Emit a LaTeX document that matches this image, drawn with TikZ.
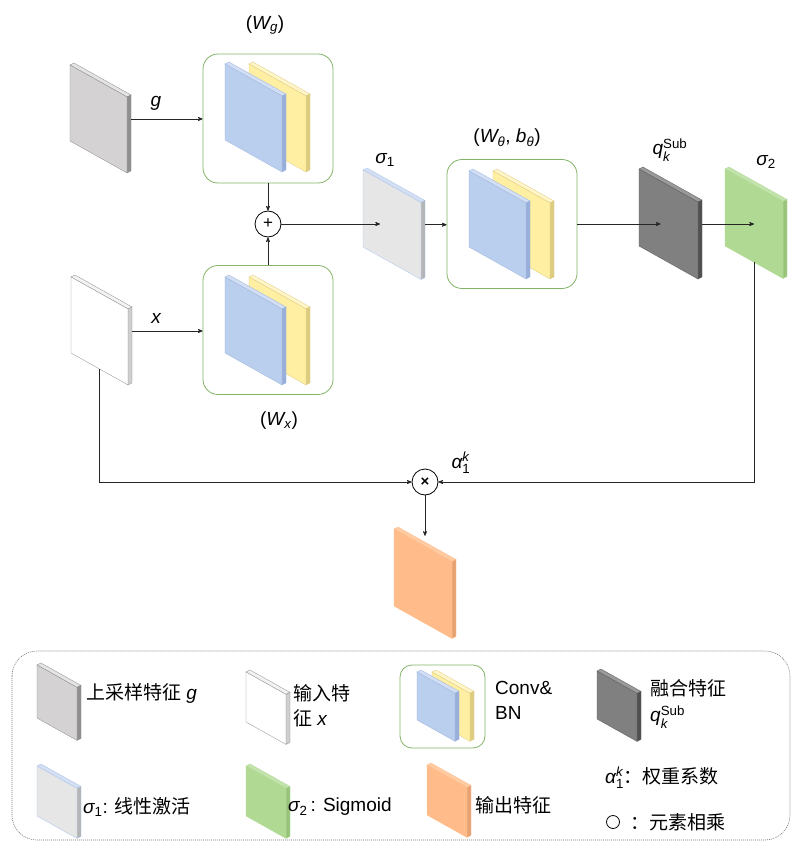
\documentclass[tikz,border=0pt]{standalone}
\usepackage{amsmath}
\usepackage{fontspec}
\setmainfont{Liberation Sans}
\newfontfamily\cjk{Noto Sans CJK SC}
\usetikzlibrary{arrows,positioning}

\definecolor{boxgreen}{HTML}{82B366}
\definecolor{gfront}{HTML}{D4D2D3}
\definecolor{gside}{HTML}{8F8F8F}
\definecolor{gtop}{HTML}{E4E4E4}
\definecolor{gedge}{HTML}{888888}
\definecolor{xside}{HTML}{CFCFCF}
\definecolor{xtop}{HTML}{F2F2F2}
\definecolor{xedge}{HTML}{8C8C8C}
\definecolor{sfront}{HTML}{E6E6E6}
\definecolor{sside}{HTML}{B5B5B5}
\definecolor{stop}{HTML}{D4DFF3}
\definecolor{sedge}{HTML}{A9C4EB}
\definecolor{qfront}{HTML}{808080}
\definecolor{qside}{HTML}{505050}
\definecolor{qtop}{HTML}{9A9A9A}
\definecolor{qedge}{HTML}{5A5A5A}
\definecolor{gnfront}{HTML}{B0D993}
\definecolor{gnside}{HTML}{98C47A}
\definecolor{gntop}{HTML}{C3E3AC}
\definecolor{ofront}{HTML}{FFBC8A}
\definecolor{oside}{HTML}{E6A273}
\definecolor{otop}{HTML}{FFCBA3}
\definecolor{bfront}{HTML}{BACEEE}
\definecolor{bside}{HTML}{98AFDA}
\definecolor{btop}{HTML}{D2DEF4}
\definecolor{bedge}{HTML}{9FB6DE}
\definecolor{yfront}{HTML}{FFEFA3}
\definecolor{yside}{HTML}{DDCC80}
\definecolor{ytop}{HTML}{FFF5C8}

\tikzset{
    %Define standard arrow tip
    >=stealth',
    %Define style for conv boxes
    convbox/.style={
           rectangle, rounded corners=15pt,
           draw=boxgreen, line width=0.8pt, fill=white,
           minimum width=130pt, minimum height=129pt},
    %Define style for operators
    opnode/.style={
           circle, draw=black, line width=0.8pt,
           minimum size=26pt, inner sep=0pt},
    % Define arrow style
    pil/.style={
           ->,
           line width=0.7pt,
           draw=black!85},
    lbl/.style={font=\fontsize{19}{23}\selectfont, inner sep=0pt},
    legtxt/.style={font=\fontsize{19}{25}\selectfont, anchor=west, align=left, inner sep=0pt},
    legbox/.style={draw=black!55, line width=0.6pt, dash pattern=on 1pt off 1pt, rounded corners=25pt}
}

% feature map: name, x, y, width, height, front, side, top, edge
\newcommand{\fmap}[9]{%
  \pgfmathsetmacro{\sk}{0.56*#4}
  \filldraw[fill=#8, draw=#9, line width=0.3pt] (#2,#3) -- ++(4,-2) -- ++(#4,\sk) -- ++(-4,2) -- cycle;
  \filldraw[fill=#7, draw=#9, line width=0.3pt] (#2+#4,#3+\sk) -- ++(4,-2) -- ++(0,#5) -- ++(-4,2) -- cycle;
  \filldraw[fill=#6, draw=#9, line width=0.3pt] (#2,#3) -- ++(#4,\sk) -- ++(0,#5) -- ++(-#4,-\sk) -- cycle;
  \node[inner sep=0pt, minimum width=#4, minimum height=#5+\sk] (#1) at (#2+#4/2,#3+#5/2+\sk/2) {};
}

\begin{document}
\begin{tikzpicture}[x=1pt,y=-1pt]
\useasboundingbox (0,0) rectangle (793,842);
%Feature maps
\fmap{g}{70}{65}{57}{76}{gfront}{gside}{gtop}{gedge}
\fmap{x}{71}{277}{57}{76}{white}{xside}{xtop}{xedge}
\fmap{s1}{363}{170}{58}{77}{sfront}{sside}{stop}{sedge}
\fmap{q}{639}{169}{59}{77}{qfront}{qside}{qtop}{qedge}
\fmap{s2}{725}{169}{58}{77}{gnfront}{gnside}{gntop}{gnfront}
\fmap{out}{394}{529}{58}{77}{ofront}{oside}{otop}{ofront}
%Conv boxes
\node[convbox] (wg) at (268,118.5) {};
\fmap{wgy}{249}{64}{57}{76}{yfront}{yside}{ytop}{yside}
\fmap{wgb}{225}{64}{57}{76}{bfront}{bside}{btop}{bedge}
\node[convbox] (wx) at (268,330) {};
\fmap{wxy}{249}{277}{57}{76}{yfront}{yside}{ytop}{yside}
\fmap{wxb}{225}{277}{57}{76}{bfront}{bside}{btop}{bedge}
\node[convbox] (wt) at (512,224) {};
\fmap{wty}{493}{171}{57}{76}{yfront}{yside}{ytop}{yside}
\fmap{wtb}{469}{171}{57}{76}{bfront}{bside}{btop}{bedge}
%Operators
\node[opnode, font=\fontsize{17}{20}\selectfont] (plus) at (268,224) {+};
\node[opnode, font=\fontsize{15}{18}\selectfont\bfseries] (times) at (425,482) {×};
%Labels
\node[lbl] (lwg) at (265,25) {({\itshape W}\textsubscript{\itshape g})};
\node[lbl] (lwx) at (279,421) {({\itshape W}\textsubscript{\itshape x})};
\node[lbl] (lg) at (156,103) {\itshape g};
\node[lbl] (lx) at (156,318) {\itshape x};
\node[lbl] (ls1) at (385,160) {{\itshape σ}\textsubscript{1}};
\node[lbl] (lwt) at (507,138) {({\itshape W}\textsubscript{\itshape θ}, {\itshape b}\textsubscript{\itshape θ})};
\node[lbl] (lq) at (670,150) {{\itshape q}$^{\text{Sub}}_{\text{\itshape k}}$};
\node[lbl] (ls2) at (766,162) {{\itshape σ}\textsubscript{2}};
\node[lbl] (lal) at (461,463) {{\itshape α}$^{\text{\itshape k}}_{\text{1}}$};
%Connectors
\draw[pil] ([xshift=4pt]g.east) -- (g.east -| wg.west);
\draw[pil] ([xshift=4pt]x.east) -- (x.east -| wx.west);
\draw[pil] (wg.south) -- (plus.north);
\draw[pil] (wx.north) -- (plus.south);
\draw[pil] (plus.east) -- ([xshift=-12pt]plus.east -| s1.center);
\draw[pil] ([xshift=4pt]s1.east) -- (s1.east -| wt.west);
\draw[pil] (wt.east) -- ([xshift=-8pt]wt.east -| q.center);
\draw[pil] ([xshift=4pt]q.east) -- (q.east -| s2.center);
\draw[pil] ([yshift=-38pt]x.center) |- (times.west);
\draw[pil] ([yshift=-38pt]s2.center) |- (times.east);
\draw[pil] (times.south) -- ([yshift=-7pt]times.south |- out.north);
%Legend
\draw[legbox] (12,651) rectangle (790,840);
\fmap{lgm}{37}{665}{40}{53}{gfront}{gside}{gtop}{gedge}
\node[legtxt] (lgmt) at (86,693) {{\cjk 上采样特征} {\itshape g}};
\fmap{lxm}{246}{672}{40}{50}{white}{xside}{xtop}{xedge}
\node[legtxt] (lxmt) at (293,705.5) {{\cjk 输入特}\\{\cjk 征} {\itshape x}};
\node[convbox, minimum width=85pt, minimum height=83pt, rounded corners=12pt] (lconv) at (442.5,706.5) {};
\fmap{lcy}{432}{672}{38}{48}{yfront}{yside}{ytop}{yside}
\fmap{lcb}{417}{672}{38}{48}{bfront}{bside}{btop}{bedge}
\node[legtxt] (lconvt) at (495,700) {Conv\&\\BN};
\fmap{lqm}{597}{671}{40}{48}{qfront}{qside}{qtop}{qedge}
\node[legtxt] (lqmt) at (650,688) {\cjk 融合特征};
\node[legtxt] (lqms) at (650,717) {{\itshape q}$^{\text{Sub}}_{\text{\itshape k}}$};
\fmap{ls1m}{37}{766}{40}{50}{sfront}{sside}{stop}{sedge}
\node[legtxt] (ls1mt) at (83,807) {{\itshape σ}\textsubscript{1}: {\cjk 线性激活}};
\fmap{ls2m}{246}{766}{40}{50}{gnfront}{gnside}{gntop}{gnfront}
\node[legtxt] (ls2mt) at (288,807) {{\itshape σ}\textsubscript{2}\,: Sigmoid};
\fmap{loutm}{427}{765}{40}{50}{ofront}{oside}{otop}{ofront}
\node[legtxt] (loutmt) at (475,805) {\cjk 输出特征};
\node[legtxt] (lalt) at (605,778) {{\itshape α}$^{\text{\itshape k}}_{\text{1}}${\cjk ：权重系数}};
\node[circle, draw=black, line width=0.8pt, minimum size=13pt, inner sep=0pt] (lop) at (613,822) {};
\node[legtxt] (lopt) at (630,822) {\cjk ：元素相乘};
\end{tikzpicture}
\end{document}
